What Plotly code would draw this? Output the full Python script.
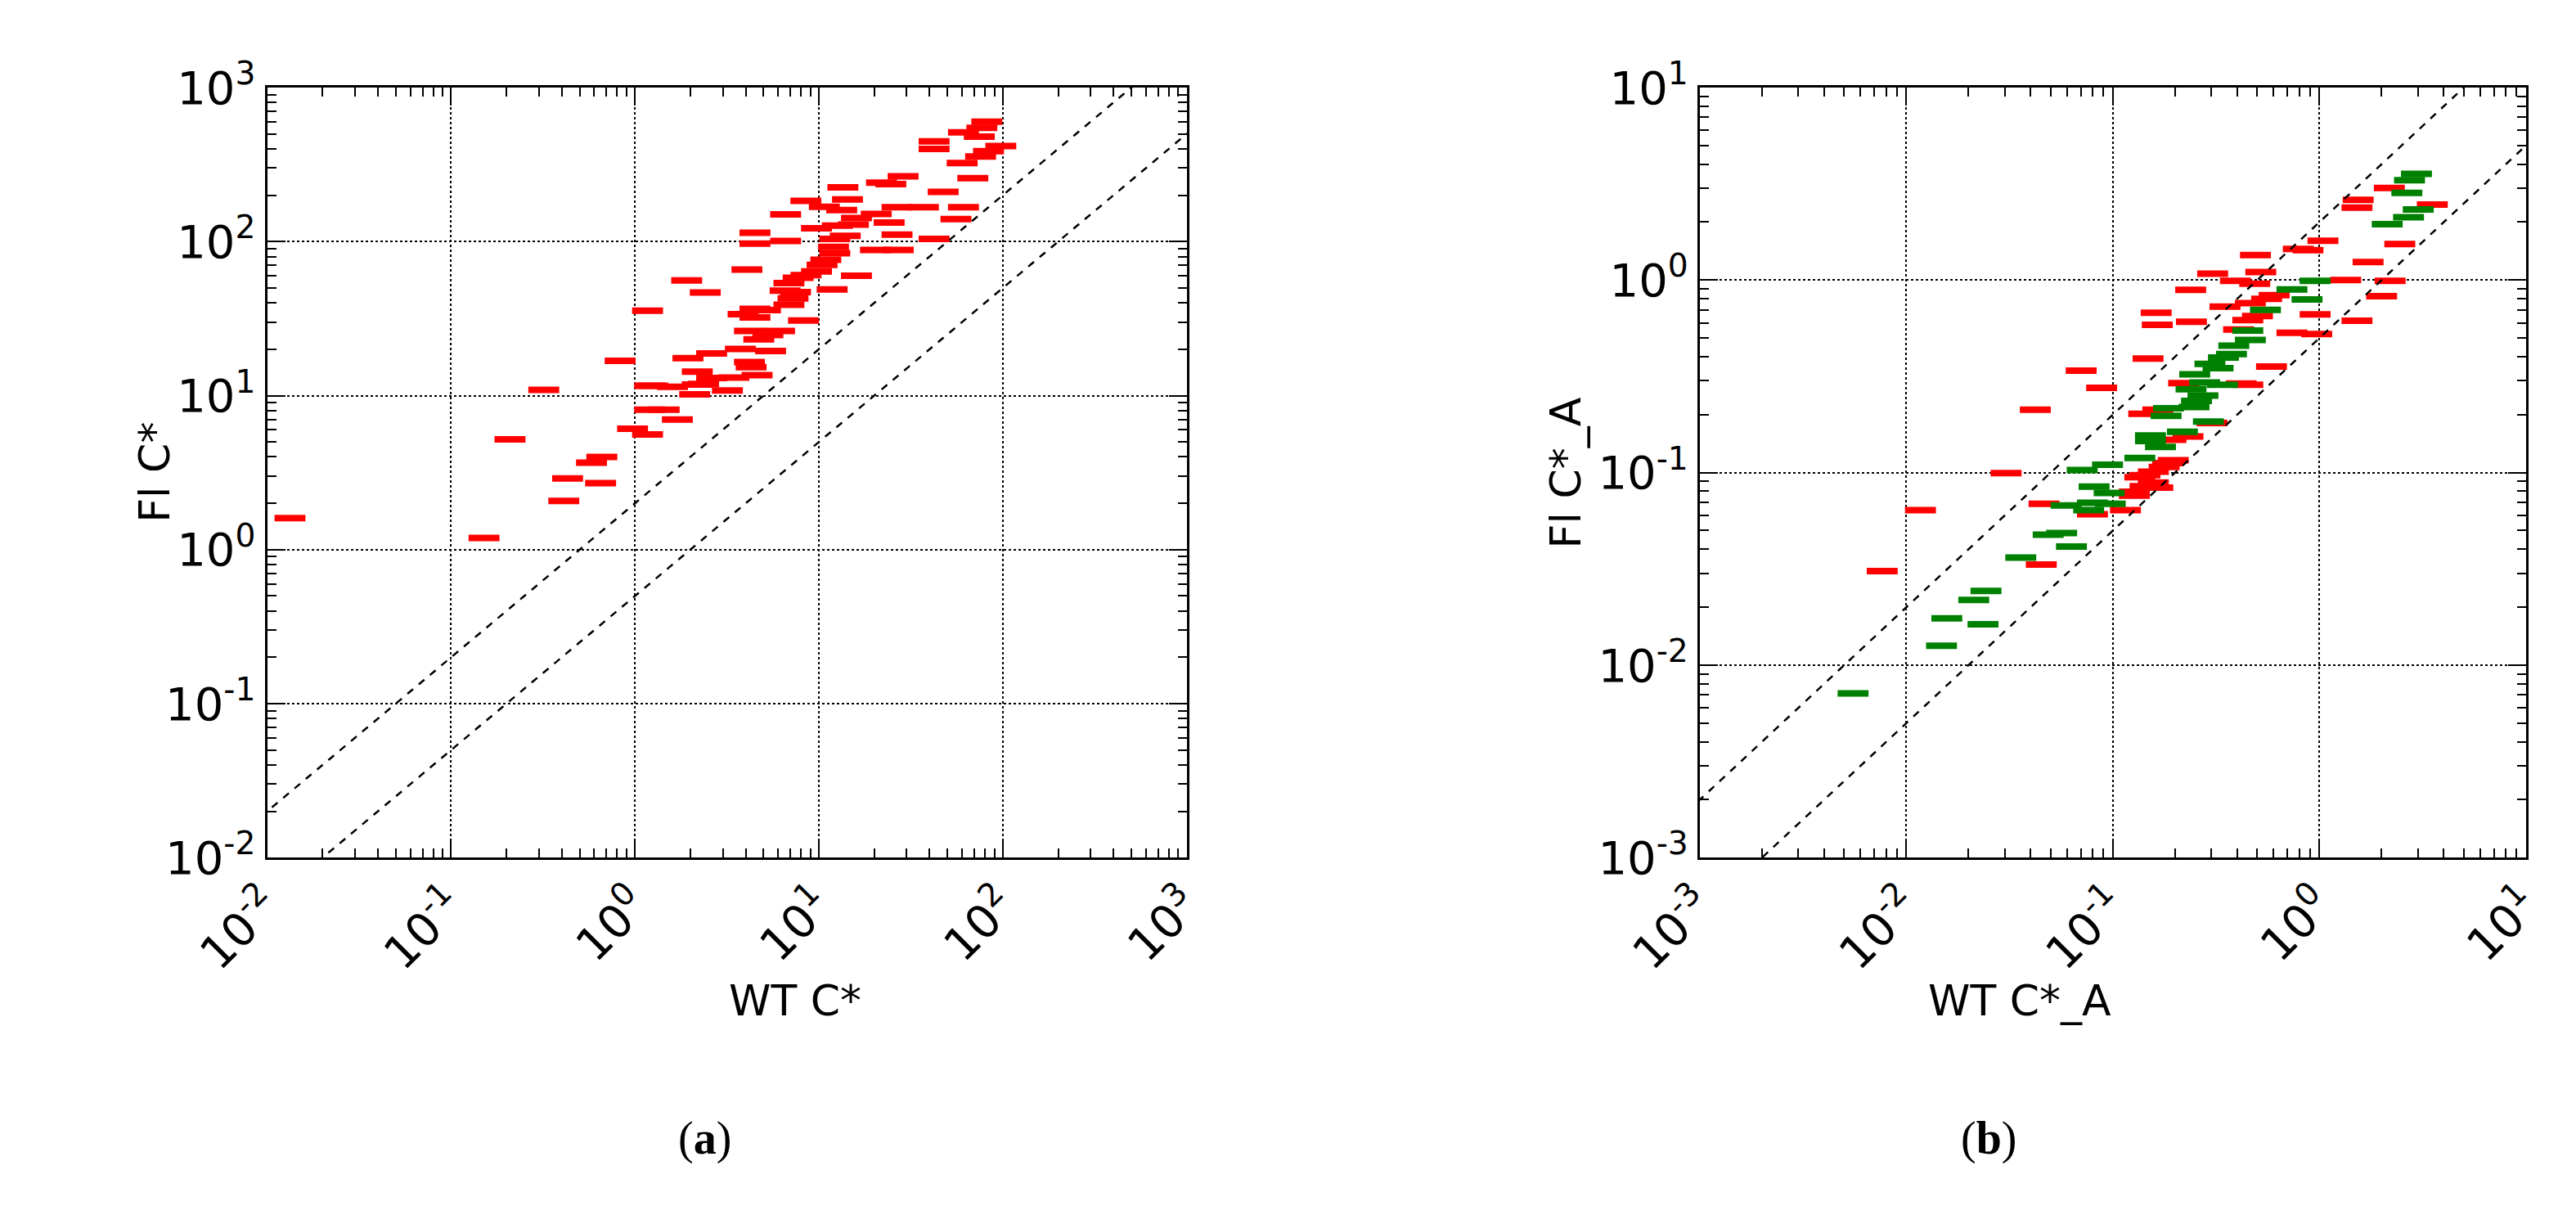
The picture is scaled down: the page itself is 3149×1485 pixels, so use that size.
import plotly.graph_objects as go

# panel (a): WT C* vs Fl C*
a_x = [0.0133, 0.151, 0.209, 0.319, 0.41, 0.43, 0.58, 0.66, 0.65, 0.83, 0.97, 1.17, 1.2, 1.2,
       81.8, 76.9, 61.1, 74.5, 42.3, 42.3, 97.5, 83.6, 75.7, 60.1, 68.7, 28.7, 21.9, 24.6, 47.4,
       13.5, 14.3, 8.49, 10.7, 13.3, 6.59, 26.6, 37.0, 61.1, 55.6, 24.1, 20.5, 16.0, 15.4, 12.6,
       9.70, 26.6, 42.3, 13.9, 12.2, 4.49, 4.49, 6.59, 12.0, 12.2, 20.3, 27.0, 10.9, 10.4, 9.70,
       8.51, 7.71, 16.0, 4.06, 1.91, 2.41, 11.8, 6.87, 6.55, 7.46, 7.23, 6.87, 1.17, 4.49, 5.12,
       3.87, 4.49, 8.24, 4.19, 6.11, 4.71, 5.28, 3.74, 5.46, 2.61, 1.94, 4.19, 4.28, 4.61, 2.18,
       2.61, 3.45, 1.25, 1.60, 2.18, 2.11, 3.18, 1.44, 1.70, 2.36]
a_y = [1.6, 1.19, 5.2, 10.9, 2.07, 2.9, 3.67, 4.0, 2.7, 16.8, 6.1, 5.6, 11.6, 8.1,
       600, 548, 512, 480, 447, 400, 417, 387, 357, 324, 258, 265, 241, 236, 210,
       225, 188, 184, 168, 160, 150, 167, 167, 167, 140, 133, 151, 142, 129, 127,
       122, 111, 104, 109, 104, 114, 97, 101, 92.5, 83.9, 88.3, 88.3, 76.2, 70.6, 64.1,
       60.5, 58.2, 60.0, 65.8, 56.0, 46.7, 48.9, 53.8, 48.0, 47.0, 42.8, 38.9, 35.6, 36.6, 35.9,
       33.8, 32.2, 30.7, 26.3, 26.3, 23.2, 24.7, 20.1, 19.5, 18.8, 17.5, 16.5, 15.3, 13.6, 14.3,
       13.0, 13.1, 11.6, 11.4, 11.8, 10.2, 10.8, 8.09, 7.00, 11.9]

# panel (b): WT C*_A vs Fl C*_A, red and green series
b_red_x = [2.18, 1.54, 1.52, 3.52, 1.04, 2.45, 0.79, 0.88, 0.49, 0.52, 0.304, 1.72, 1.34, 2.20,
           0.392, 0.486, 0.238, 0.604, 0.555, 0.463, 2.0, 0.349, 0.162, 0.953, 0.450, 0.501,
           0.240, 0.164, 1.52, 0.406, 0.736, 0.970, 0.148, 0.0702, 0.0882, 0.586, 0.220, 0.418,
           0.450, 0.0421, 0.141, 0.165, 0.302, 0.231, 0.191, 0.196, 0.184, 0.177, 0.157, 0.143,
           0.135, 0.157, 0.165, 0.143, 0.127, 0.127, 0.115, 0.0796, 0.0464, 0.0304, 0.0450,
           0.0117, 0.00764]
b_red_y = [3.01, 2.61, 2.38, 2.47, 1.60, 1.54, 1.45, 1.43, 1.35, 1.10, 1.08, 1.24, 1.0, 0.99,
           0.99, 0.957, 0.889, 0.835, 0.800, 0.760, 0.824, 0.728, 0.676, 0.663, 0.619, 0.651,
           0.608, 0.586, 0.615, 0.554, 0.533, 0.524, 0.391, 0.339, 0.276, 0.356, 0.292, 0.290,
           0.286, 0.212, 0.202, 0.212, 0.181, 0.154, 0.148, 0.116, 0.112, 0.107, 0.101, 0.0969,
           0.0946, 0.0889, 0.0835, 0.0851, 0.0795, 0.0760, 0.0639, 0.0608, 0.0689, 0.0993, 0.0333,
           0.0639, 0.0308]
b_green_x = [2.95, 2.73, 2.65, 3.01, 2.70, 2.13, 0.953, 0.736, 0.871, 0.548, 0.450, 0.463, 0.385,
             0.375, 0.343, 0.295, 0.323, 0.249, 0.278, 0.339, 0.239, 0.273, 0.254, 0.247, 0.186,
             0.181, 0.152, 0.152, 0.170, 0.217, 0.290, 0.135, 0.0942, 0.0710, 0.0811, 0.0959,
             0.0971, 0.0796, 0.0593, 0.0763, 0.0565, 0.0486, 0.0630, 0.0358, 0.0243, 0.0212,
             0.0157, 0.0235, 0.0148, 0.00552]
b_green_y = [3.56, 3.30, 2.84, 2.33, 2.12, 1.95, 0.99, 0.894, 0.794, 0.701, 0.547, 0.489, 0.456,
             0.413, 0.396, 0.367, 0.349, 0.324, 0.294, 0.286, 0.271, 0.251, 0.236, 0.219, 0.216,
             0.197, 0.156, 0.146, 0.136, 0.163, 0.184, 0.119, 0.110, 0.103, 0.0845, 0.0785,
             0.0689, 0.0697, 0.0676, 0.0639, 0.0485, 0.0476, 0.0413, 0.0362, 0.0243, 0.0218,
             0.0175, 0.0163, 0.0126, 0.00714]

# reference lines y = k*x
ratios = [2.0, 0.5]
line_x = [1e-4, 1e4]

fig = go.Figure()
mk = lambda c: dict(symbol="line-ew", size=27, line=dict(color=c, width=8))

fig.add_trace(go.Scatter(x=a_x, y=a_y, mode="markers", marker=mk("red"), xaxis="x", yaxis="y"))
fig.add_trace(go.Scatter(x=b_red_x, y=b_red_y, mode="markers", marker=mk("red"), xaxis="x2", yaxis="y2"))
fig.add_trace(go.Scatter(x=b_green_x, y=b_green_y, mode="markers", marker=mk("green"), xaxis="x2", yaxis="y2"))
for ax in ["", "2"]:
    for k in ratios:
        fig.add_trace(go.Scatter(x=line_x, y=[k * v for v in line_x], mode="lines",
                                 line=dict(color="black", width=2.5, dash="dash"),
                                 xaxis="x" + ax, yaxis="y" + ax))

def sup(n):
    return "10<sup>%d</sup>" % n

def axis(lo, hi, domain, anchor, rotate):
    minor_vals = [m * 10 ** n for n in range(lo, hi) for m in range(2, 10)]
    d = dict(type="log", range=[lo, hi], domain=domain, anchor=anchor,
             tickvals=[10 ** n for n in range(lo, hi + 1)],
             ticktext=[sup(n) for n in range(lo, hi + 1)],
             ticks="inside", ticklen=22, tickwidth=2, tickcolor="black",
             minor=dict(tickvals=minor_vals, ticks="inside", ticklen=11, tickwidth=2,
                        tickcolor="black", showgrid=False),
             showline=True, linecolor="black", linewidth=3, mirror="allticks",
             showgrid=True, gridcolor="black", gridwidth=1.5, griddash="dot",
             tickfont=dict(size=56, color="black"), zeroline=False)
    if rotate:
        d["tickangle"] = -45
    return d

fig.update_layout(
    width=3149, height=1485, showlegend=False,
    plot_bgcolor="white", paper_bgcolor="white",
    margin=dict(l=0, r=0, t=0, b=0),
    font=dict(family="DejaVu Sans", color="black"),
    xaxis=axis(-2, 3, [0.0724, 0.4446], "y", True),
    yaxis=axis(-2, 3, [0.2916, 0.9582], "x", False),
    xaxis2=axis(-3, 1, [0.6523, 0.9867], "y2", True),
    yaxis2=axis(-3, 1, [0.2916, 0.9582], "x2", False),
)

ann = [
    dict(text="WT C*", x=0.2585, y=0.145, textangle=0),
    dict(text="Fl C*", x=0.016, y=0.625, textangle=-90),
    dict(text="WT C*_A", x=0.8195, y=0.145, textangle=0),
    dict(text="Fl C*_A", x=0.598, y=0.625, textangle=-90),
]
for a in ann:
    fig.add_annotation(xref="paper", yref="paper", showarrow=False,
                       font=dict(size=52, family="DejaVu Sans"), **a)
for t, x in [("(<b>a</b>)", 0.238), ("(<b>b</b>)", 0.781)]:
    fig.add_annotation(text=t, x=x, y=0.025, xref="paper", yref="paper", showarrow=False,
                       font=dict(size=56, family="Liberation Serif"))

fig.write_html("out.html")
